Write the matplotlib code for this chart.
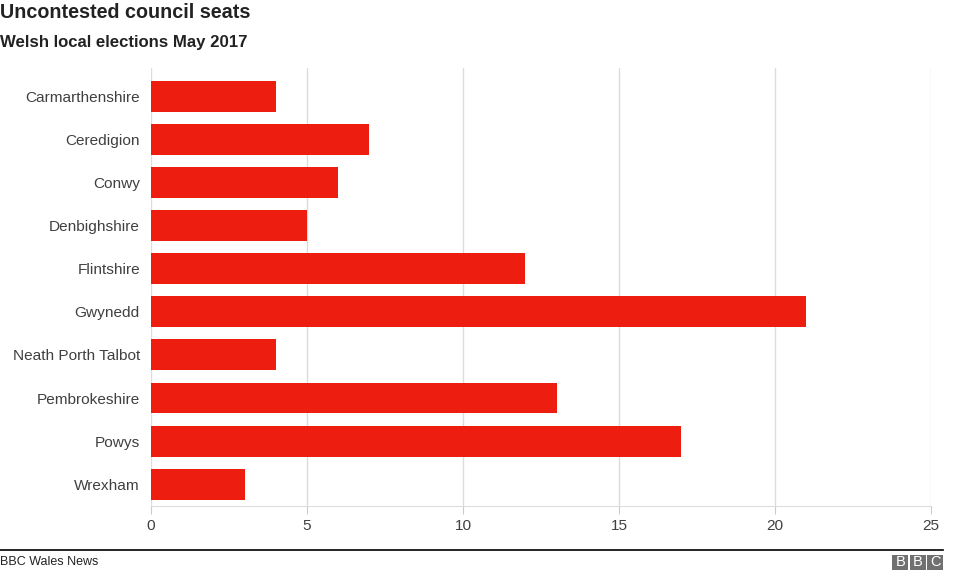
import matplotlib.pyplot as plt
from matplotlib.patches import Rectangle

councils = ['Carmarthenshire', 'Ceredigion', 'Conwy', 'Denbighshire', 'Flintshire',
            'Gwynedd', 'Neath Porth Talbot', 'Pembrokeshire', 'Powys', 'Wrexham']
seats = [4, 7, 6, 5, 12, 21, 4, 13, 17, 3]
xticks = [0, 5, 10, 15, 20, 25]

plt.rcParams['font.family'] = ['Liberation Sans', 'DejaVu Sans']

fig = plt.figure(figsize=(9.76, 5.74), dpi=100)
ax = fig.add_axes([151/976, 1-506/574, 780/976, 438/574])

ax.barh(range(len(councils)), seats, height=0.72, color='#ED1E0F', zorder=3)
ax.set_yticks(range(len(councils)))
ax.set_yticklabels(councils)
ax.set_ylim(9.51, -0.67)
ax.set_xlim(0, 25)
ax.set_xticks(xticks)
ax.grid(axis='x', color='#dcdcdc', lw=1, zorder=0)
for s in ['top', 'right', 'left']:
    ax.spines[s].set_visible(False)
ax.spines['bottom'].set_color('#dcdcdc')
ax.tick_params(axis='y', length=0, pad=8, labelsize=11.1, labelcolor='#404040')
ax.tick_params(axis='x', length=6, color='#cccccc', pad=3, labelsize=11.1, labelcolor='#404040')

fig.text(0.0, 1-13/574, 'Uncontested council seats', fontsize=14.2, fontweight='bold',
         color='#222222', va='center', ha='left')
fig.text(0.0, 1-43/574, 'Welsh local elections May 2017', fontsize=12.1, fontweight='bold',
         color='#222222', va='center', ha='left')

# footer
fig.add_artist(plt.Line2D([0, 943/976], [1-550/574, 1-550/574], color='black', lw=1.2,
                          transform=fig.transFigure))
fig.text(0.0, 1-562/574, 'BBC Wales News', fontsize=9, color='#222222', va='center', ha='left')
for i, ch in enumerate('BBC'):
    x0 = (892 + i*17.5)/976
    fig.add_artist(Rectangle((x0, 1-570/574), 16/976, 15/574, transform=fig.transFigure,
                             color='#707070', lw=0))
    fig.text(x0 + 8.5/976, 1-562.5/574, ch, fontsize=10.5, color='white',
             ha='center', va='center')

fig.savefig('out.png', dpi=100)
